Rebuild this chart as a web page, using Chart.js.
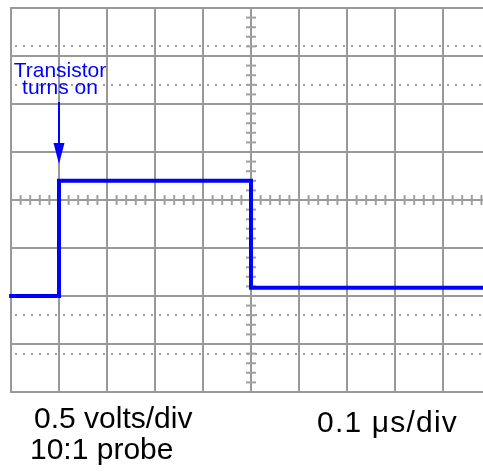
<!DOCTYPE html>
<html><head><meta charset="utf-8">
<script src="https://cdn.jsdelivr.net/npm/chart.js@4"></script>
<style>
html,body{margin:0;padding:0;background:#fff;overflow:hidden;}
#wrap{position:relative;width:520px;height:472px;}
</style></head><body>
<div id="wrap"><canvas id="c"></canvas></div>
<script>
// Oscilloscope trace, in graticule divisions (10 horizontal x 8 vertical)
const timeDiv  = [-0.04, 1, 1, 5, 5, 10];
const levelDiv = [-2, -2, 0.4, 0.4, -1.83, -1.83];
const xDivTicks = [0,1,2,3,4,5,6,7,8,9,10];
const yDivTicks = [-4,-3,-2,-1,0,1,2,3,4];
const dottedLevels = [3.2, 2.4, -2.4, -3.2];
const markerTime = 1;
const markerFrom = 2.04, markerTo = 0.75;
const markerLabel = ['Transistor', 'turns on'];
const markerLabelLevels = [2.56, 2.2];
const captionLeft = ['0.5 volts/div', '10:1 probe'];
const captionRight = ['0.1 \u03bcs/div'];

const GRID = '#999999';
const FONT = '"Liberation Sans", Arial, Helvetica, sans-serif';

const graticule = {
  id: 'graticule',
  beforeDatasetsDraw(chart) {
    const {ctx, scales: {x, y}} = chart;
    const top = y.getPixelForValue(4), bot = y.getPixelForValue(-4);
    const left = x.getPixelForValue(0), right = x.getPixelForValue(10);
    ctx.save();
    ctx.strokeStyle = GRID; ctx.lineWidth = 2; ctx.lineCap = 'square';
    xDivTicks.forEach(v => {
      const px = Math.round(x.getPixelForValue(v));
      ctx.beginPath(); ctx.moveTo(px, top); ctx.lineTo(px, bot); ctx.stroke();
    });
    yDivTicks.forEach(v => {
      const py = Math.round(y.getPixelForValue(v));
      ctx.beginPath(); ctx.moveTo(left, py); ctx.lineTo(right, py); ctx.stroke();
    });
    // dotted lines
    ctx.lineCap = 'butt';
    ctx.setLineDash([2, 6]);
    ctx.strokeStyle = '#a0a0a0';
    dottedLevels.forEach(v => {
      const py = Math.round(y.getPixelForValue(v));
      ctx.beginPath(); ctx.moveTo(left + 4, py); ctx.lineTo(right, py); ctx.stroke();
    });
    ctx.setLineDash([]);
    // center minor ticks
    ctx.strokeStyle = '#a0a0a0'; ctx.lineWidth = 2;
    const cx = Math.round(x.getPixelForValue(5)), cy = Math.round(y.getPixelForValue(0));
    for (let i = 0; i <= 50; i++) {
      if (i % 5 === 0) continue;
      const px = x.getPixelForValue(i / 5);
      ctx.beginPath(); ctx.moveTo(px, cy - 5); ctx.lineTo(px, cy + 5); ctx.stroke();
    }
    for (let i = -20; i <= 20; i++) {
      if (i % 5 === 0) continue;
      const py = y.getPixelForValue(i / 5);
      ctx.beginPath(); ctx.moveTo(cx - 5, py); ctx.lineTo(cx + 5, py); ctx.stroke();
    }
    ctx.restore();
  },
  afterDatasetsDraw(chart) {
    const {ctx, scales: {x, y}} = chart;
    ctx.save();
    const ax = Math.round(x.getPixelForValue(markerTime));
    const y0 = y.getPixelForValue(markerFrom), y1 = y.getPixelForValue(markerTo);
    ctx.strokeStyle = '#0000ff'; ctx.fillStyle = '#0000ff'; ctx.lineWidth = 2;
    ctx.beginPath(); ctx.moveTo(ax, y0); ctx.lineTo(ax, y1 - 12); ctx.stroke();
    ctx.beginPath(); ctx.moveTo(ax - 5.5, y1 - 21); ctx.lineTo(ax + 5.5, y1 - 21); ctx.lineTo(ax, y1); ctx.closePath(); ctx.fill();
    ctx.font = '21px ' + FONT; ctx.textAlign = 'center'; ctx.textBaseline = 'alphabetic';
    markerLabel.forEach((t, i) => ctx.fillText(t, ax + 1, y.getPixelForValue(markerLabelLevels[i])));
    ctx.fillStyle = '#000';
    ctx.font = '30px ' + FONT; ctx.textAlign = 'left';
    ctx.fillText(captionLeft[0], 34, 428);
    ctx.fillText(captionLeft[1], 30, 459);
    ctx.letterSpacing = '1.2px';
    ctx.fillText(captionRight[0], 317, 432);
    ctx.restore();
  }
};

new Chart(document.getElementById('c'), {
  type: 'line',
  data: {
    datasets: [{
      data: timeDiv.map((t, i) => ({x: t, y: levelDiv[i]})),
      borderColor: '#0000ff', borderWidth: 4, pointRadius: 0, tension: 0,
      clip: false, borderJoinStyle: 'miter', borderCapStyle: 'butt', fill: false
    }]
  },
  options: {
    animation: false, responsive: true, maintainAspectRatio: false, devicePixelRatio: 1,
    layout: {padding: {left: 11, right: 29, top: 8, bottom: 80}},
    plugins: {legend: {display: false}, tooltip: {enabled: false}},
    scales: {
      x: {type: 'linear', min: 0, max: 10, display: false},
      y: {type: 'linear', min: -4, max: 4, display: false}
    }
  },
  plugins: [graticule]
});
</script>
</body></html>
